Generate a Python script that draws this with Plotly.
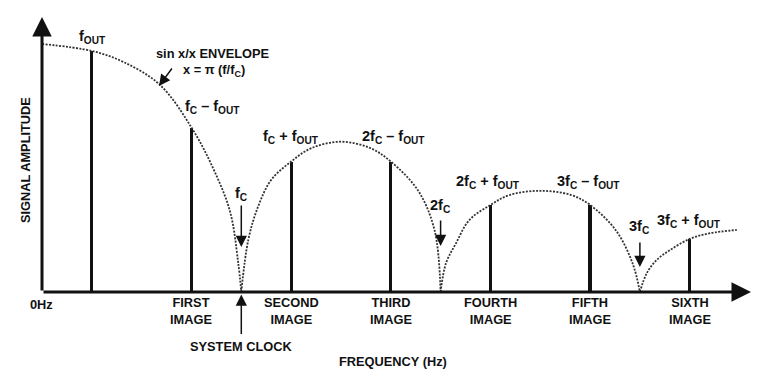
import plotly.graph_objects as go

# ---- data (frequency in units of fc, amplitude normalised to envelope peak) ----
bar_f = [0.25, 0.75, 1.25, 1.75, 2.25, 2.75, 3.25]
bar_amp = [0.972, 0.662, 0.526, 0.526, 0.351, 0.351, 0.214]

lobe1_f = [0.0, 0.25, 0.41, 0.592, 0.751, 0.858, 0.944, 0.984, 1.0]
lobe1_a = [1.0, 0.972, 0.927, 0.835, 0.662, 0.5, 0.323, 0.121, 0.0]
lobe2_f = [1.0, 1.035, 1.084, 1.15, 1.25, 1.352, 1.5, 1.648, 1.75, 1.887, 1.97, 2.0]
lobe2_a = [0.0, 0.21, 0.344, 0.452, 0.526, 0.58, 0.606, 0.58, 0.526, 0.409, 0.248, 0.0]
lobe3_f = [2.0, 2.027, 2.077, 2.144, 2.25, 2.345, 2.5, 2.655, 2.75, 2.88, 2.964, 3.0]
lobe3_a = [0.0, 0.116, 0.196, 0.29, 0.351, 0.391, 0.408, 0.391, 0.351, 0.248, 0.114, 0.0]
lobe4_f = [3.0, 3.034, 3.084, 3.151, 3.25, 3.352, 3.486]
lobe4_a = [0.0, 0.075, 0.129, 0.169, 0.214, 0.237, 0.25]

image_labels = ["FIRST", "SECOND", "THIRD", "FOURTH", "FIFTH", "SIXTH"]
top_labels = ["f<sub>OUT</sub>", "f<sub>C</sub> – f<sub>OUT</sub>", "f<sub>C</sub> + f<sub>OUT</sub>",
              "2f<sub>C</sub> – f<sub>OUT</sub>", "2f<sub>C</sub> + f<sub>OUT</sub>",
              "3f<sub>C</sub> – f<sub>OUT</sub>", "3f<sub>C</sub> + f<sub>OUT</sub>"]
clock_labels = ["f<sub>C</sub>", "2f<sub>C</sub>", "3f<sub>C</sub>"]
clock_f = [1.0, 2.0, 3.0]

# ---- layout geometry (screen pixels; page body has an 8px margin) ----
PAGE_OFF = 8
W, H = 760 - 2 * PAGE_OFF, 380 - 2 * PAGE_OFF
X0PIX, PX_PER_F = 42, 199.3
BASE_PIX, PX_PER_A = 292, 248


def fx(px):
    return (px - X0PIX) / PX_PER_F


def ay(py):
    return (BASE_PIX - py) / PX_PER_A


FAMILY = "Liberation Sans, Arial, sans-serif"
FONT = dict(family=FAMILY, size=12.8, color="#111")
FONT_F = dict(family=FAMILY, size=14.5, color="#111")
INK = "#111"

fig = go.Figure()

for lf, la in [(lobe1_f, lobe1_a), (lobe2_f, lobe2_a), (lobe3_f, lobe3_a), (lobe4_f, lobe4_a)]:
    fig.add_trace(go.Scatter(x=lf, y=la, mode="lines",
                             line=dict(color="#333", width=1.8, dash="2px,1.4px",
                                       shape="spline", smoothing=1.0),
                             hoverinfo="skip", showlegend=False))

fig.add_trace(go.Bar(x=bar_f, y=bar_amp, width=0.016, marker=dict(color=INK, line=dict(width=0)),
                     hoverinfo="skip", showlegend=False))

ann = []
# axes with arrows
ann.append(dict(x=fx(751), y=0, ax=0, ay=0, xref="x", yref="y", axref="x", ayref="y",
                text="", showarrow=True, arrowhead=2, arrowsize=1.3, arrowwidth=3, arrowcolor=INK))
ann.append(dict(x=0, y=ay(17), ax=0, ay=0, xref="x", yref="y", axref="x", ayref="y",
                text="", showarrow=True, arrowhead=2, arrowsize=1.3, arrowwidth=3, arrowcolor=INK))

# top labels
top_pos = [(92, 37), (212, 107), (291, 137), (393, 137), (488, 182), (588, 182), (689, 221)]
for t, (px, py) in zip(top_labels, top_pos):
    ann.append(dict(x=fx(px), y=ay(py), text="<b>" + t + "</b>", showarrow=False, font=FONT_F,
                    xref="x", yref="y"))

# envelope labels + arrow
ann.append(dict(x=fx(213), y=ay(53), text="<b>sin x/x ENVELOPE</b>", showarrow=False, font=FONT,
                xref="x", yref="y"))
ann.append(dict(x=fx(214), y=ay(70), text="<b>x = π (f/f<sub>C</sub>)</b>", showarrow=False, font=FONT,
                xref="x", yref="y"))
ann.append(dict(x=fx(159), y=ay(86), ax=14, ay=-19, text="", showarrow=True, arrowhead=2,
                arrowsize=1.5, arrowwidth=1.5, arrowcolor=INK, xref="x", yref="y"))

# clock labels + down arrows
clock_text_py = [194, 206, 227]
clock_tip_py = [247, 246, 267]
clock_tail_py = [204, 219, 241]
for t, f, tp, tip, tail in zip(clock_labels, clock_f, clock_text_py, clock_tip_py, clock_tail_py):
    ann.append(dict(x=f, y=ay(tp), text="<b>" + t + "</b>", showarrow=False, font=FONT_F,
                    xref="x", yref="y"))
    ann.append(dict(x=f, y=ay(tip), ax=0, ay=tail - tip, text="", showarrow=True, arrowhead=2,
                    arrowsize=1.5, arrowwidth=1.5, arrowcolor=INK, xref="x", yref="y"))

# image labels (two lines)
for lab, f in zip(image_labels, bar_f[1:]):
    ann.append(dict(x=f, y=ay(311), text="<b>" + lab + "<br>IMAGE</b>", showarrow=False, font=FONT,
                    xref="x", yref="y"))

ann.append(dict(x=fx(41), y=ay(304), text="<b>0Hz</b>", showarrow=False, font=FONT,
                xref="x", yref="y"))
ann.append(dict(x=1.0, y=ay(294.5), ax=0, ay=41, text="", showarrow=True, arrowhead=2,
                arrowsize=1.5, arrowwidth=1.5, arrowcolor=INK, xref="x", yref="y"))
ann.append(dict(x=1.0, y=ay(346), text="<b>SYSTEM CLOCK</b>", showarrow=False, font=FONT,
                xref="x", yref="y"))
ann.append(dict(x=fx(393), y=ay(361), text="<b>FREQUENCY (Hz)</b>", showarrow=False, font=FONT,
                xref="x", yref="y"))
ann.append(dict(x=fx(25), y=ay(160), text="<b>SIGNAL AMPLITUDE</b>", showarrow=False, font=FONT,
                textangle=-90, xref="x", yref="y"))

# plot area covers the whole figure, which sits at screen px PAGE_OFF..PAGE_OFF+W
x_lo, x_hi = fx(PAGE_OFF), fx(PAGE_OFF + W)
y_lo, y_hi = ay(PAGE_OFF + H), ay(PAGE_OFF)

fig.update_layout(
    width=W, height=H,
    margin=dict(l=0, r=0, t=0, b=0, pad=0),
    paper_bgcolor="white", plot_bgcolor="white",
    xaxis=dict(range=[x_lo, x_hi], visible=False, fixedrange=True),
    yaxis=dict(range=[y_lo, y_hi], visible=False, fixedrange=True),
    annotations=ann,
    showlegend=False,
    bargap=0,
)

fig.write_html("out.html")
